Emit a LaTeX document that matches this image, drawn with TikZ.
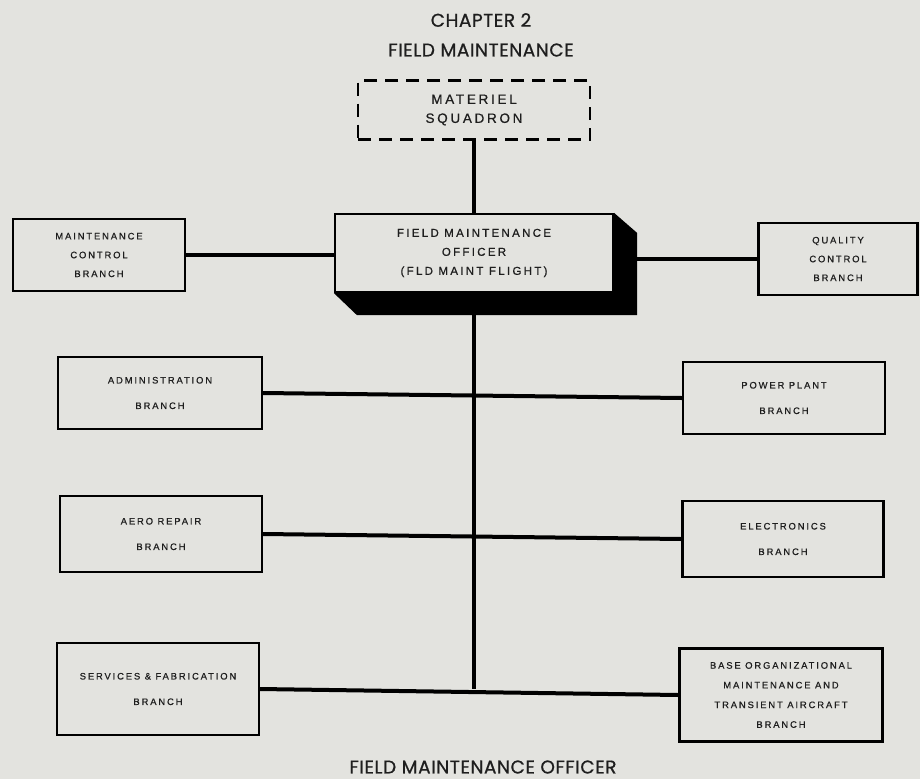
\documentclass[tikz,border=0pt]{standalone}
\usepackage{fontspec}
\setmainfont{Liberation Sans}
\newfontfamily\titlefont[FakeBold=0.8,LetterSpace=3]{Poppins}
\newfontfamily\chartfont[LetterSpace=20,FakeBold=0.6]{Liberation Sans}
\usetikzlibrary{backgrounds}
\definecolor{paper}{RGB}{227,227,223}
\definecolor{ink}{RGB}{30,30,30}
\tikzset{
  basebox/.style={rectangle,draw=black,line width=2.2pt,fill=paper,align=center,text=ink,inner sep=2pt},
  branchbox/.style={basebox,font=\chartfont\fontsize{9.4}{18.8}\selectfont},
  pairbox/.style={basebox,font=\chartfont\fontsize{9.4}{25.5}\selectfont},
  officebox/.style={basebox,font=\chartfont\fontsize{11.5}{19}\selectfont},
  squadbox/.style={basebox,dashed,dash pattern=on 13pt off 8pt,line width=2.4pt,
    font=\chartfont\fontsize{13.5}{19}\selectfont},
  link/.style={line width=4pt,draw=black},
  titletext/.style={font=\titlefont\fontsize{18.5}{20}\selectfont,text=ink}
}

\begin{document}
\begin{tikzpicture}[x=1pt,y=-1pt]
  \useasboundingbox (0,0) rectangle (920,779);

  % headings
  \node[titletext] (chap) at (481,20) {CHAPTER 2};
  \node[titletext] (head) at (481,50) {FIELD MAINTENANCE};
  \node[titletext] (foot) at (483,767) {FIELD MAINTENANCE OFFICER};

  % top of the chart
  \node[squadbox,minimum width=232,minimum height=59] (mat) at (474,110) {MATERIEL\\SQUADRON};
  \node[officebox,minimum width=278,minimum height=78] (fmo) at (474,253)
    {FIELD MAINTENANCE\\OFFICER\\(FLD MAINT FLIGHT)};
  \fill[black] (fmo.north east) -- ([shift={(23,20)}]fmo.north east)
    -- ([shift={(23,22)}]fmo.south east) -- ([shift={(23,22)}]fmo.south west)
    -- (fmo.south west) -- (fmo.south east) -- cycle;

  % staff branches
  \node[branchbox,minimum width=172,minimum height=72] (mcb) at (99,255)
    {MAINTENANCE\\CONTROL\\BRANCH};
  \node[branchbox,minimum width=159,minimum height=72] (qcb) at (838,259)
    {QUALITY\\CONTROL\\BRANCH};

  % line branches
  \node[pairbox,minimum width=204,minimum height=72] (adm) at (160,393) {ADMINISTRATION\\BRANCH};
  \node[pairbox,minimum width=202,minimum height=72] (pwr) at (784,398) {POWER PLANT\\BRANCH};
  \node[pairbox,minimum width=202,minimum height=76] (aero) at (161,534) {AERO REPAIR\\BRANCH};
  \node[pairbox,minimum width=201,minimum height=76] (elec) at (783,539) {ELECTRONICS\\BRANCH};
  \node[pairbox,minimum width=202,minimum height=92] (svc) at (158,689)
    {SERVICES \& FABRICATION\\BRANCH};
  \node[branchbox,minimum width=203,minimum height=93,font=\chartfont\fontsize{9.4}{19.7}\selectfont]
    (base) at (781,695) {BASE ORGANIZATIONAL\\MAINTENANCE AND\\TRANSIENT AIRCRAFT\\BRANCH};

  \begin{pgfonlayer}{background}
    \fill[paper] (0,0) rectangle (920,779);
    \draw[link] (mat.south) -- (fmo.north);
    \draw[link] (fmo.south) -- (fmo.south |- svc.east);
    \draw[link] (mcb.east) -- (mcb.east -| fmo.west);
    \draw[link] (fmo.east |- qcb.west) -- (qcb.west);
    \draw[link] (adm.east) -- (pwr.west);
    \draw[link] (aero.east) -- (elec.west);
    \draw[link] (svc.east) -- (base.west);
  \end{pgfonlayer}
\end{tikzpicture}
\end{document}
